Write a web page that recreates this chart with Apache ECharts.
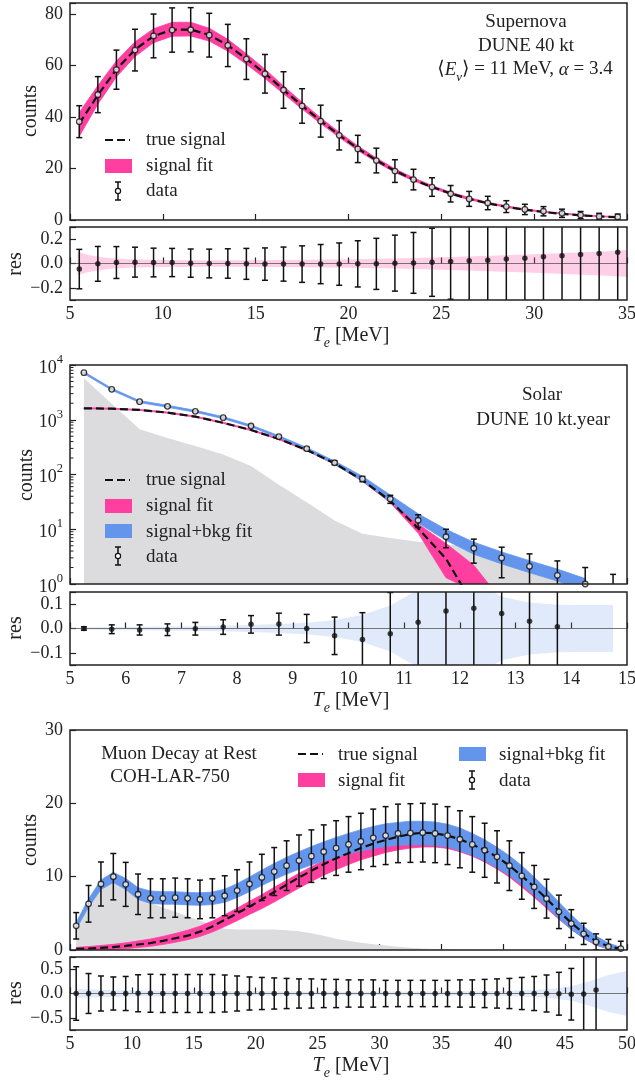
<!DOCTYPE html>
<html><head><meta charset="utf-8">
<script src="https://cdn.jsdelivr.net/npm/echarts@6/dist/echarts.min.js"></script>
<style>html,body{margin:0;padding:0;background:#fff}#c{width:635px;height:1084px}</style>
</head><body><div id="c"></div>
<script>
// ================= DATA =================
// ---- Supernova (DUNE 40 kt) ----
const snX = [5.5,6.5,7.5,8.5,9.5,10.5,11.5,12.5,13.5,14.5,15.5,16.5,17.5,18.5,19.5,20.5,21.5,22.5,23.5,24.5,25.5,26.5,27.5,28.5,29.5,30.5,31.5,32.5,33.5,34.5];
const snData = [38.2,48.7,58.4,66.0,71.5,73.8,73.9,71.8,67.8,62.5,56.8,50.5,44.3,38.4,32.9,27.6,23.1,19.0,15.7,12.8,10.2,8.2,6.6,5.2,4.1,3.4,2.6,1.9,1.4,1.2];
const snErr = [6.2,7.0,7.6,8.1,8.5,8.6,8.6,8.5,8.2,7.9,7.5,7.1,6.7,6.2,5.7,5.3,4.8,4.4,4.0,3.6,3.2,2.9,2.6,2.3,2.0,1.8,1.6,1.4,1.2,1.1];
const snTrue = [37.5,48.5,58.5,66.2,71.4,73.9,74.0,71.9,67.9,62.6,56.9,50.6,44.4,38.5,33.0,27.8,23.2,19.1,15.7,12.8,10.3,8.2,6.5,5.1,4.0,3.1,2.4,1.8,1.4,1.1];
const snFitLo = [32.5,45.0,55.6,63.5,68.9,71.4,71.5,69.5,65.6,60.5,55.0,49.0,43.1,37.5,32.1,27.0,22.5,18.5,15.2,12.4,9.9,7.9,6.3,4.9,3.8,3.0,2.3,1.7,1.3,1.0];
const snFitHi = [41.8,52.2,61.8,69.2,74.3,76.8,76.8,74.5,70.2,64.6,58.6,52.1,45.7,39.7,34.1,28.8,24.1,19.9,16.4,13.4,10.8,8.7,6.9,5.5,4.3,3.4,2.7,2.1,1.6,1.3];
const snRes = [-0.046,-0.003,0.008,0.011,0.008,0.008,0.003,0.0,0.0,-0.003,-0.005,-0.005,-0.005,-0.005,-0.005,-0.003,-0.003,0.003,0.005,0.01,0.016,0.022,0.027,0.036,0.044,0.055,0.063,0.074,0.082,0.093];
const snResErr = [0.162,0.143,0.131,0.123,0.118,0.116,0.116,0.118,0.121,0.127,0.133,0.14,0.15,0.161,0.174,0.19,0.21,0.23,0.25,0.28,0.31,0.35,0.39,0.44,0.49,0.54,0.62,0.73,0.85,0.91];
const snResBandX = [5.4,6,7,8,10,12,14,16,18,20,22,24,26,28,30,32,34,35];
const snResBand = [0.095,0.07,0.045,0.035,0.029,0.027,0.027,0.028,0.031,0.035,0.04,0.047,0.056,0.066,0.077,0.088,0.1,0.11];

// ---- Solar (DUNE 10 kt.year) ----
const solX = [5.25,5.75,6.25,6.75,7.25,7.75,8.25,8.75,9.25,9.75,10.25,10.75,11.25,11.75,12.25,12.75,13.25,13.75,14.25,14.75];
const solData = [7240,3600,2140,1760,1425,1090,769,490,296,164,83,35.7,14.6,7.3,4.5,3.0,2.1,1.44,1.0,0.5];
const solErr = [85,60,46,42,38,33,28,22,17,12.8,9.1,6.0,3.8,2.7,2.1,1.7,1.45,1.2,1.0,1.0];
const solBkg = [5700,1950,670,464,333,233,143,65,31,14.5,8.3,6.9,5.9,5.3,4.7,3.2,2.1,1.5,1.0,0.7];
const solTrueX = [5.25,5.75,6.25,6.75,7.25,7.75,8.25,8.75,9.25,9.75,10.25,10.75,11.25,11.75,12.25];
const solTrue = [1620,1595,1510,1350,1140,880,650,445,280,160,79,33,10.4,2.9,0.4];
const solFitX = [5.25,5.75,6.25,6.75,7.25,7.75,8.25,8.75,9.25,9.75,10.25,10.75,11.25,11.75,12.25,12.75];
const solFitLo = [1585,1560,1477,1320,1113,858,633,433,271,154,75,30.5,8.5,1.3,0.75,0.3];
const solFitHi = [1655,1630,1544,1380,1167,902,667,457,289,166,83,35.5,12.5,5.5,2.2,0.5];
const solTotX = [5.25,5.75,6.25,6.75,7.25,7.75,8.25,8.75,9.25,9.75,10.25,10.75,11.25,11.75,12.25,12.75,13.25,13.75,14.25];
const solTotLo = [6950,3455,2055,1690,1368,1046,738,470,281,153,75.7,31.4,13.0,6.27,3.49,2.33,1.61,1.13,0.76];
const solTotHi = [7540,3750,2230,1835,1485,1136,801,511,311,176,93.2,42.4,19.2,9.95,5.80,3.86,2.67,1.87,1.26];
const solResX = [5.25,5.75,6.25,6.75,7.25,7.75,8.25,8.75,9.25,9.75,10.25,10.75,11.25,11.75,12.25,12.75,13.25,13.75];
const solRes = [0.0,-0.003,-0.006,-0.005,-0.001,0.006,0.017,0.018,0.0,-0.03,-0.045,-0.022,0.026,0.072,0.083,0.062,0.03,0.007];
const solResErr = [0.007,0.018,0.021,0.024,0.026,0.03,0.036,0.045,0.058,0.077,0.11,0.17,0.26,0.37,0.47,0.58,0.69,0.83];
const solResBand = [0.005,0.006,0.007,0.008,0.009,0.011,0.014,0.018,0.024,0.035,0.055,0.095,0.16,0.2,0.2,0.13,0.107,0.098,0.097,0.097];

// ---- Muon decay at rest (COH-LAR-750) ----
const muX = [5.5,6.5,7.5,8.5,9.5,10.5,11.5,12.5,13.5,14.5,15.5,16.5,17.5,18.5,19.5,20.5,21.5,22.5,23.5,24.5,25.5,26.5,27.5,28.5,29.5,30.5,31.5,32.5,33.5,34.5,35.5,36.5,37.5,38.5,39.5,40.5,41.5,42.5,43.5,44.5,45.5,46.5,47.5,48.5,49.5];
const muData = [3.3,6.3,9.0,10.0,8.95,7.6,7.05,7.05,7.14,7.05,6.9,7.05,7.4,8.1,9.0,9.9,10.7,11.5,12.2,12.8,13.4,13.9,14.4,14.8,15.3,15.6,15.9,15.95,16.0,15.9,15.6,15.1,14.4,13.6,12.7,11.5,10.1,8.6,7.0,5.2,3.6,2.2,1.1,0.45,0.2];
const muErr = [1.8,2.5,3.0,3.16,3.0,2.76,2.66,2.66,2.67,2.66,2.63,2.66,2.72,2.85,3.0,3.15,3.27,3.39,3.49,3.58,3.66,3.73,3.79,3.85,3.91,3.95,3.99,4.0,4.0,3.99,3.95,3.89,3.79,3.69,3.56,3.39,3.18,2.93,2.65,2.28,1.9,1.45,1.1,1.0,1.0];
const muBkg = [3.0,6.0,8.5,9.6,8.4,7.2,6.4,5.8,5.2,4.6,4.0,3.4,2.9,2.8,2.8,2.8,2.8,2.7,2.55,2.3,1.95,1.55,1.25,1.0,0.8,0.6,0.45,0.32,0.22,0.15,0.1,0.08,0.06,0.05,0.04,0.03,0.03,0.02,0.02,0.01,0.01,0.01,0,0,0];
const muTrue = [0.15,0.2,0.3,0.4,0.55,0.75,0.95,1.25,1.6,1.95,2.5,3.2,4.1,5.0,5.9,6.9,7.9,8.9,9.9,10.8,11.7,12.5,13.2,13.9,14.5,15.0,15.45,15.8,16.0,15.9,15.6,15.1,14.4,13.6,12.7,11.5,10.1,8.6,7.0,5.3,3.7,2.3,1.2,0.5,0.15];
const muFitMid = [0.15,0.22,0.32,0.42,0.58,0.78,1.0,1.3,1.65,2.05,2.55,3.2,4.0,4.85,5.75,6.6,7.55,8.5,9.45,10.35,11.2,11.95,12.65,13.3,13.8,14.25,14.6,14.85,15.0,15.0,14.8,14.35,13.75,12.95,12.0,10.85,9.5,8.05,6.5,4.95,3.45,2.15,1.1,0.45,0.15];
const muFitHw = [0.2,0.25,0.3,0.35,0.4,0.45,0.5,0.55,0.6,0.65,0.7,0.75,0.8,0.85,0.9,0.95,1.0,1.0,1.0,1.0,1.0,1.0,1.0,1.0,1.0,0.95,0.95,0.95,0.95,0.95,0.95,0.95,0.95,0.95,0.95,0.9,0.9,0.85,0.8,0.75,0.65,0.55,0.45,0.3,0.15];
const muTotMid = [3.3,6.4,8.9,9.9,9.0,7.7,7.2,7.1,7.1,7.0,6.95,7.05,7.4,8.1,8.95,9.85,10.7,11.5,12.2,12.85,13.45,14.0,14.5,14.95,15.35,15.65,15.85,15.95,15.95,15.85,15.6,15.1,14.4,13.6,12.6,11.5,10.2,8.7,7.1,5.4,3.8,2.4,1.3,0.55,0.15];
const muTotHw = [0.45,0.55,0.65,0.7,0.75,0.8,0.85,0.85,0.85,0.85,0.85,0.85,0.9,0.95,1.0,1.05,1.1,1.15,1.2,1.25,1.3,1.35,1.4,1.45,1.5,1.55,1.55,1.6,1.6,1.6,1.55,1.55,1.5,1.45,1.4,1.35,1.3,1.25,1.2,1.1,1.0,0.8,0.6,0.4,0.2];
const muResX = [5.5,6.5,7.5,8.5,9.5,10.5,11.5,12.5,13.5,14.5,15.5,16.5,17.5,18.5,19.5,20.5,21.5,22.5,23.5,24.5,25.5,26.5,27.5,28.5,29.5,30.5,31.5,32.5,33.5,34.5,35.5,36.5,37.5,38.5,39.5,40.5,41.5,42.5,43.5,44.5,45.5,46.5,47.5];
const muRes = [0,0,0,0,0,0.005,0.005,0,0,0,0,0,0,0,0,0,0,0,0,0,0,0,0,0,0,0,0,0,0,0,0,0,0,0,0,0,0,0,0,-0.005,-0.015,-0.01,0.07];
const muResErr = [0.55,0.41,0.36,0.34,0.35,0.38,0.39,0.39,0.39,0.39,0.39,0.39,0.38,0.36,0.34,0.33,0.32,0.31,0.3,0.3,0.29,0.29,0.28,0.28,0.28,0.27,0.27,0.27,0.27,0.27,0.27,0.28,0.28,0.29,0.3,0.31,0.33,0.35,0.38,0.44,0.53,0.95,1.4];
const muResBandX = [5.5,8,10,15,20,25,30,35,40,42.5,44,45.5,47,48.5,50];
const muResBand = [0.09,0.07,0.06,0.05,0.045,0.04,0.04,0.04,0.05,0.07,0.1,0.15,0.25,0.38,0.46];

// ---- tick labels ----
const snYTicks = [0,20,40,60,80];
const snResTicks = [-0.2,0,0.2];
const solResTicks = [-0.1,0,0.1];
const muYTicks = [0,10,20,30];
const muResTicks = [-0.5,0,0.5];

// ================= STYLE =================
const F = '"Liberation Serif", "DejaVu Serif", serif';
const INK = '#222';
const PINK = '#ff3fa0';
const BLUE = '#6495ed';
const GRAY = '#dcdcde';
const PINK_L = 'rgba(255,63,160,0.25)';
const BLUE_L = 'rgba(100,149,237,0.2)';

const gridBoxes = [
  {top:3, height:217}, {top:227, height:73},
  {top:365, height:219}, {top:592, height:73},
  {top:730, height:220}, {top:957, height:73}
];
const grids = gridBoxes.map(g => ({left:70, width:557, top:g.top, height:g.height, show:true,
  borderColor:INK, borderWidth:1.5, backgroundColor:'transparent', z:10, outerBoundsMode:'none', containLabel:false}));

function inList(list) { return v => list.some(t => Math.abs(t - v) < 1e-9); }
function fmtRes(v) { return (v < 0 ? '\u2212' : '') + Math.abs(v).toFixed(1); }

function xAx(gi, min, max, interval, showLabel) {
  return {type:'value', gridIndex:gi, min:min, max:max, interval:interval,
    axisLine:{show:false}, splitLine:{show:false},
    axisTick:{show:true, inside:true, length:6, lineStyle:{color:INK, width:1.2}},
    axisLabel:{show:showLabel, fontFamily:F, fontSize:18, color:INK, margin:5, formatter: v => String(v)}};
}
function yLin(gi, min, max, interval, ticks, fmt, splitNumber) {
  const a = {type:'value', gridIndex:gi, min:min, max:max,
    axisLine:{show:false}, splitLine:{show:false},
    axisTick:{show:true, inside:true, length:6, lineStyle:{color:INK, width:1.2}},
    axisLabel:{fontFamily:F, fontSize:18, color:INK, margin:7,
      formatter: v => inList(ticks)(v) ? fmt(v) : ''}};
  if (interval) a.interval = interval; else a.splitNumber = splitNumber;
  return a;
}

function band(gi, xs, lo, hi, color, z, lw) {
  return {type:'custom', xAxisIndex:gi, yAxisIndex:gi, z:z, clip:true, silent:true,
    data: xs.map((x, i) => [x, lo[i], hi[i]]), encode:{x:0, y:[1,2]},
    renderItem: function (params, api) {
      if (params.dataIndex !== 0) return null;
      const pts = [];
      for (let i = 0; i < xs.length; i++) pts.push(api.coord([xs[i], hi[i]]));
      for (let i = xs.length - 1; i >= 0; i--) pts.push(api.coord([xs[i], lo[i]]));
      return {type:'polygon', shape:{points:pts},
        style:{fill:color, stroke:color, lineWidth: lw == null ? 0.8 : lw}};
    }};
}
function errbars(gi, xs, ys, es, floor, z) {
  return {type:'custom', xAxisIndex:gi, yAxisIndex:gi, z:z, clip:true, silent:true,
    data: xs.map((x, i) => [x, ys[i], es[i]]), encode:{x:0, y:1},
    renderItem: function (params, api) {
      const x = api.value(0), y = api.value(1), e = api.value(2);
      const p1 = api.coord([x, y + e]), p2 = api.coord([x, Math.max(y - e, floor)]);
      const w = 3, st = {stroke:'#111', lineWidth:1.5};
      return {type:'group', children:[
        {type:'line', shape:{x1:p1[0], y1:p1[1], x2:p2[0], y2:p2[1]}, style:st},
        {type:'line', shape:{x1:p1[0]-w, y1:p1[1], x2:p1[0]+w, y2:p1[1]}, style:st},
        {type:'line', shape:{x1:p2[0]-w, y1:p2[1], x2:p2[0]+w, y2:p2[1]}, style:st}
      ]};
    }};
}
function pts(gi, xs, ys, hollow, z) {
  return {type:'scatter', xAxisIndex:gi, yAxisIndex:gi, z:z, silent:true, clip:true,
    data: xs.map((x, i) => [x, ys[i]]), symbol:'circle', symbolSize:5.5,
    itemStyle: hollow ? {color:'#fff', borderColor:'#111', borderWidth:1.3} : {color:'#111'}};
}
function dline(gi, xs, ys, z) {
  return {type:'line', xAxisIndex:gi, yAxisIndex:gi, z:z, silent:true, clip:true,
    data: xs.map((x, i) => [x, ys[i]]), symbol:'none', showSymbol:false,
    lineStyle:{color:'#111', width:2.2, type:[8,4]}};
}
function zeroLine(gi, xmin, xmax) {
  return {type:'line', xAxisIndex:gi, yAxisIndex:gi, z:3, silent:true, symbol:'none',
    data:[[xmin,0],[xmax,0]], lineStyle:{color:'#555', width:0.8}};
}

const series = [];
// ---- Panel 1 ----
series.push(band(0, snX, snFitLo, snFitHi, PINK, 2));
series.push(dline(0, snX, snTrue, 5));
series.push(errbars(0, snX, snData, snErr, -1e9, 6));
series.push(pts(0, snX, snData, true, 7));
series.push(band(1, snResBandX, snResBand.map(v => -v), snResBand, PINK_L, 2, 0));
series.push(zeroLine(1, 5, 35));
series.push(errbars(1, snX, snRes, snResErr, -1e9, 6));
series.push(pts(1, snX, snRes, false, 7));
// ---- Panel 2 ----
series.push(band(2, solX, solX.map(() => 0.1), solBkg, GRAY, 1, 0));
series.push(band(2, solFitX, solFitLo, solFitHi, PINK, 2));
series.push(band(2, solTotX, solTotLo, solTotHi, BLUE, 3));
series.push(dline(2, solTrueX, solTrue, 5));
series.push(errbars(2, solX, solData, solErr, 1e-3, 6));
series.push(pts(2, solX, solData, true, 7));
series.push({type:'custom', xAxisIndex:2, yAxisIndex:2, silent:true, z:11, clip:false,
  data:[[5, 1]], encode:{x:0, y:1},
  renderItem: function (params, api) {
    const ch = [];
    for (let d = 0; d < 4; d++) for (let k = 2; k < 10; k++) {
      const p = api.coord([5, k * Math.pow(10, d)]);
      ch.push({type:'line', shape:{x1:p[0], y1:p[1], x2:p[0] + 3.5, y2:p[1]}, style:{stroke:INK, lineWidth:1}});
    }
    return {type:'group', children:ch};
  }});
series.push(band(3, solX, solResBand.map(v => -v), solResBand, BLUE_L, 2, 0));
series.push(zeroLine(3, 5, 15));
series.push(errbars(3, solResX, solRes, solResErr, -1e9, 6));
series.push(pts(3, solResX, solRes, false, 7));
// ---- Panel 3 ----
series.push(band(4, muX, muX.map(() => 0), muBkg, GRAY, 1, 0));
series.push(band(4, muX, muFitMid.map((m, i) => Math.max(0, m - muFitHw[i])), muFitMid.map((m, i) => m + muFitHw[i]), PINK, 2));
series.push(band(4, muX, muTotMid.map((m, i) => Math.max(0, m - muTotHw[i])), muTotMid.map((m, i) => m + muTotHw[i]), BLUE, 3));
series.push(dline(4, muX, muTrue, 5));
series.push(errbars(4, muX, muData, muErr, -1e9, 6));
series.push(pts(4, muX, muData, true, 7));
series.push(band(5, muResBandX, muResBand.map(v => -v), muResBand, BLUE_L, 2, 0));
series.push(zeroLine(5, 5, 50));
series.push(errbars(5, muResX, muRes, muResErr, -1e9, 6));
series.push(pts(5, muResX, muRes, false, 7));

const xAxes = [
  xAx(0, 5, 35, 5, false), xAx(1, 5, 35, 5, true),
  xAx(2, 5, 15, 1, false), xAx(3, 5, 15, 1, true),
  xAx(4, 5, 50, 5, false), xAx(5, 5, 50, 5, true)
];
const yAxes = [
  yLin(0, 0, 84.3, 20, snYTicks, v => String(v)),
  yLin(1, -0.3, 0.3, null, snResTicks, fmtRes, 3),
  {type:'log', logBase:10, gridIndex:2, min:1, max:10000,
    axisLine:{show:false}, splitLine:{show:false}, minorTick:{show:false},
    axisTick:{show:true, inside:true, length:6, lineStyle:{color:INK, width:1.2}},
    axisLabel:{margin:7, color:INK, fontFamily:F,
      formatter: v => '{b|10}{s|' + Math.round(Math.log10(v)) + '}',
      rich:{b:{fontFamily:F, fontSize:18, color:INK, lineHeight:24, verticalAlign:'bottom'},
            s:{fontFamily:F, fontSize:12.5, color:INK, lineHeight:12, verticalAlign:'top'}}}},
  yLin(3, -0.15, 0.15, null, solResTicks, fmtRes, 3),
  yLin(4, 0, 30, 10, muYTicks, v => String(v)),
  yLin(5, -0.75, 0.75, null, muResTicks, fmtRes, 3)
];

// ================= GRAPHIC (texts, legends) =================
const TXT = 19;
function T(text, x, y, align) {
  return {type:'text', x:x, y:y, z:100, silent:true,
    style:{text:text, fontFamily:F, fontSize:TXT, fill:INK, align:align || 'left', verticalAlign:'middle'}};
}
function RT(text, x, y, align, rich, rot) {
  const e = {type:'text', x:x, y:y, z:100, silent:true,
    style:{text:text, fontFamily:F, fontSize:TXT, fill:INK, align:align, verticalAlign:'middle', rich:rich}};
  if (rot) e.rotation = rot;
  return e;
}
const richTe = {i:{fontFamily:F, fontSize:20, fontStyle:'italic', fill:INK, lineHeight:24, verticalAlign:'top'},
                s:{fontFamily:F, fontSize:14, fontStyle:'italic', fill:INK, lineHeight:14, verticalAlign:'bottom'},
                n:{fontFamily:F, fontSize:20, fill:INK, lineHeight:24, verticalAlign:'top'}};
function xTitle(y) { return RT('{i|T}{s|e}{n| [MeV]}', 351, y, 'center', richTe); }
function yTitle(t, x, y) { return RT('{n|' + t + '}', x, y, 'center', {n:{fontFamily:F, fontSize:20, fill:INK}}, Math.PI / 2); }
function dashIcon(x, y) { return {type:'line', z:100, silent:true, shape:{x1:x, y1:y, x2:x + 25, y2:y}, style:{stroke:'#111', lineWidth:2.2, lineDash:[8,4]}}; }
function rectIcon(x, y, c) { return {type:'rect', z:100, silent:true, shape:{x:x, y:y - 7, width:27, height:14}, style:{fill:c}}; }
function dataIcon(x, y) {
  const st = {stroke:'#111', lineWidth:1.5};
  return [
    {type:'line', z:100, silent:true, shape:{x1:x, y1:y - 9, x2:x, y2:y + 9}, style:st},
    {type:'line', z:100, silent:true, shape:{x1:x - 3, y1:y - 9, x2:x + 3, y2:y - 9}, style:st},
    {type:'line', z:100, silent:true, shape:{x1:x - 3, y1:y + 9, x2:x + 3, y2:y + 9}, style:st},
    {type:'circle', z:101, silent:true, shape:{cx:x, cy:y, r:2.6}, style:{fill:'#fff', stroke:'#111', lineWidth:1.2}}
  ];
}
const richEnu = {i:{fontFamily:F, fontSize:TXT, fontStyle:'italic', fill:INK, lineHeight:24, verticalAlign:'top'},
                 s:{fontFamily:F, fontSize:13, fontStyle:'italic', fill:INK, lineHeight:13, verticalAlign:'bottom'},
                 n:{fontFamily:F, fontSize:TXT, fill:INK, lineHeight:24, verticalAlign:'top'}};

const graphic = [
  // axis titles
  yTitle('counts', 31, 111), yTitle('res', 16, 264), xTitle(338),
  yTitle('counts', 27, 475), yTitle('res', 16, 628), xTitle(703),
  yTitle('counts', 31, 840), yTitle('res', 16, 993), xTitle(1068),
  // panel 1 annotation
  T('Supernova', 526, 22, 'center'), T('DUNE 40 kt', 526, 46, 'center'),
  RT('{n|\u27E8}{i|E}{s|\u03BD}{n|\u27E9 = 11 MeV, }{i|\u03B1}{n| = 3.4}', 525, 72, 'center', richEnu),
  // panel 1 legend
  dashIcon(105, 140), T('true signal', 146, 140),
  rectIcon(105, 166, PINK), T('signal fit', 146, 166),
  ...dataIcon(118, 191), T('data', 146, 191),
  // panel 2 annotation
  T('Solar', 542, 395, 'center'), T('DUNE 10 kt.year', 543, 420, 'center'),
  // panel 2 legend
  dashIcon(105, 480), T('true signal', 146, 480),
  rectIcon(105, 506, PINK), T('signal fit', 146, 506),
  rectIcon(105, 531, BLUE), T('signal+bkg fit', 146, 532),
  ...dataIcon(118, 556), T('data', 146, 557),
  // panel 3 annotation
  T('Muon Decay at Rest', 179, 754, 'center'), T('COH-LAR-750', 170, 777, 'center'),
  // panel 3 legend
  dashIcon(298, 754), T('true signal', 338, 755),
  rectIcon(298, 780, PINK), T('signal fit', 338, 781),
  rectIcon(459, 754, BLUE), T('signal+bkg fit', 499, 755),
  ...dataIcon(472, 780), T('data', 499, 781)
];

const chart = echarts.init(document.getElementById('c'), null, {renderer:'canvas'});
chart.setOption({
  animation:false, backgroundColor:'#fff',
  grid:grids, xAxis:xAxes, yAxis:yAxes, series:series, graphic:graphic
});
</script></body></html>
